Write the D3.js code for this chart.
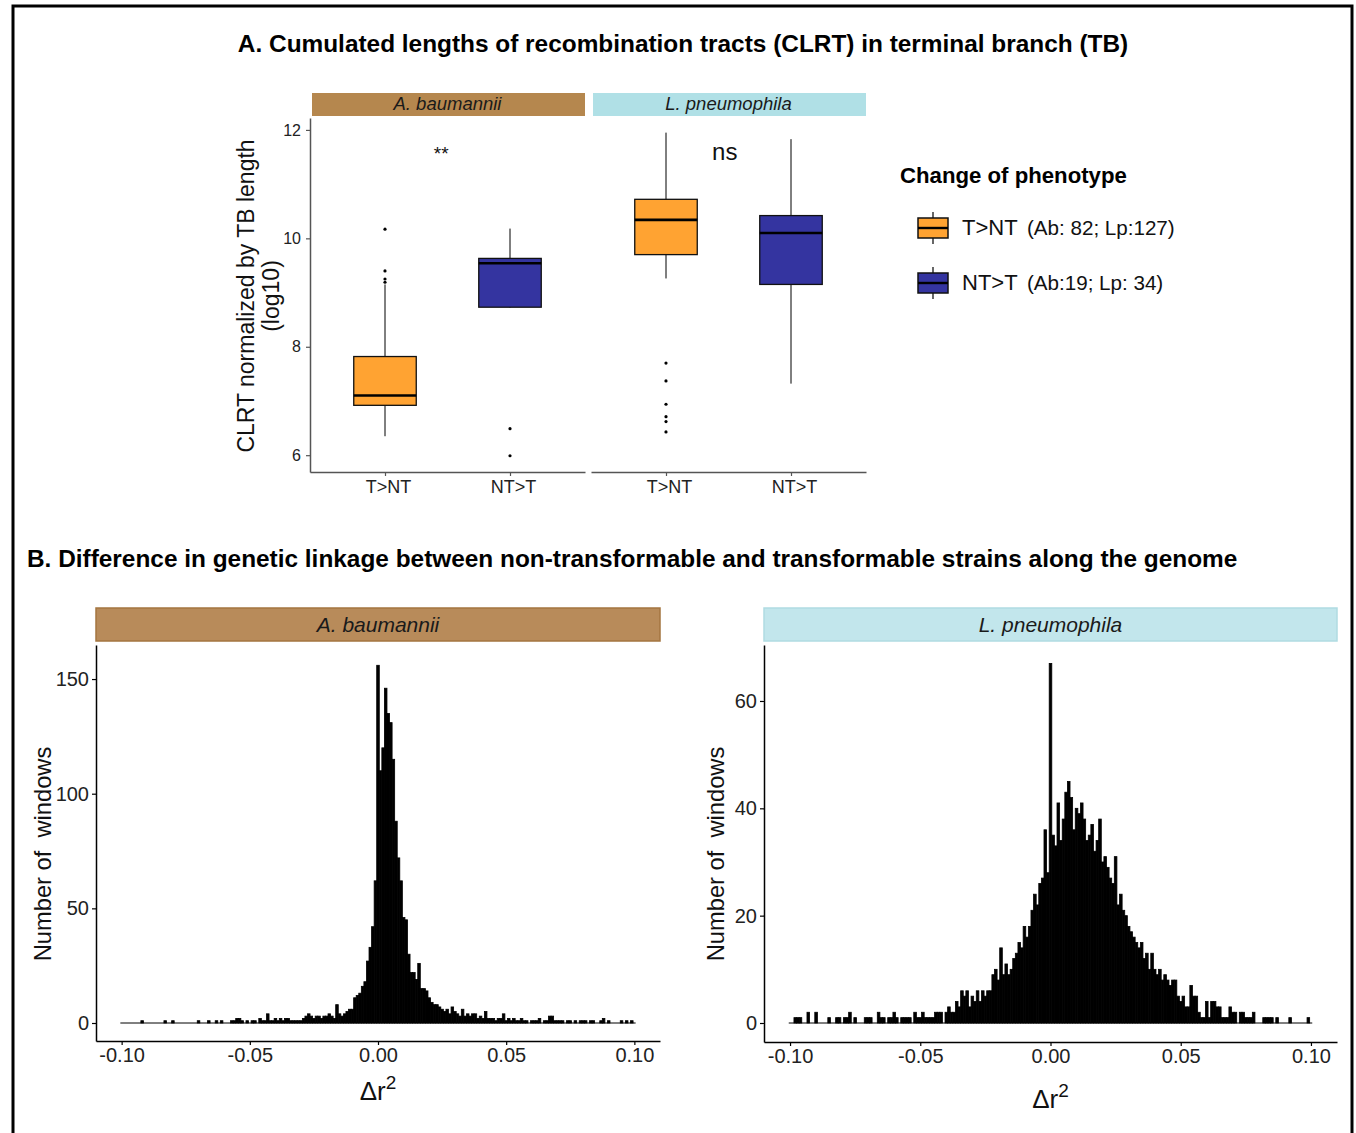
<!DOCTYPE html>
<html>
<head>
<meta charset="utf-8">
<script src="https://cdn.jsdelivr.net/npm/d3@7"></script>
<style>
  body { margin: 0; background: #fff; }
  svg { display: block; font-family: "Liberation Sans", Arial, Helvetica, sans-serif; }
</style>
</head>
<body>
<svg id="fig"></svg>
<script>
// ---- Panel A data: box stats = [lower whisker, Q1, median, Q3, upper whisker]
const species = ["A. baumannii", "L. pneumophila"];
const boxGroups = ["T>NT", "NT>T"];
const abTNT = [6.35, 6.92, 7.10, 7.82, 9.15];
const abNTT = [8.72, 8.73, 9.54, 9.63, 10.18];
const lpTNT = [9.26, 9.70, 10.34, 10.72, 11.95];
const lpNTT = [7.32, 9.15, 10.10, 10.42, 11.83];
const abTNTOut = [9.19, 9.25, 9.40, 10.17];
const abNTTOut = [5.99, 6.49];
const lpTNTOut = [6.43, 6.62, 6.71, 6.94, 7.37, 7.70];
const lpNTTOut = [];
const yTicksA = [6, 8, 10, 12];
const signifLabels = ["**", "ns"];
const legendGroups = ["T>NT", "NT>T"];
const legendCounts = ["(Ab: 82; Lp:127)", "(Ab:19; Lp: 34)"];

// ---- Panel B data: histogram counts, bins of width 0.001 centred on -0.100 ... 0.100
const binStart = -0.1;
const binWidth = 0.001;
const abCounts = [
  0,0,0,0,0,0,0,0,1,0,
  0,0,0,0,0,0,0,1,0,0,
  1,0,0,0,0,0,0,0,0,0,
  1,0,0,0,1,0,0,1,0,1,
  0,0,0,1,1,2,2,1,0,1,
  0,1,1,0,2,1,1,4,1,1,
  2,1,2,1,2,2,1,1,1,1,
  1,2,3,4,3,2,3,3,2,3,
  3,4,3,2,8,4,3,4,5,6,
  6,11,12,13,16,18,27,33,42,62,
  156,110,120,146,135,131,115,88,72,62,
  46,45,30,22,22,19,26,15,15,14,
  11,9,8,8,7,6,5,6,4,7,
  5,4,3,6,3,4,3,4,4,2,
  3,2,5,2,2,2,1,2,2,4,
  1,2,1,2,1,1,2,1,1,0,
  1,1,1,2,0,1,1,3,3,1,
  1,1,1,0,1,1,0,1,0,1,
  1,1,0,1,1,0,0,1,2,0,
  1,0,0,0,0,1,0,1,0,1,0
];
const lpCounts = [
  0,0,1,1,1,0,0,2,0,0,
  2,0,0,0,0,1,0,0,1,1,
  0,1,1,2,0,1,0,0,0,1,
  1,1,0,0,2,1,1,0,1,1,
  2,1,0,1,1,1,1,0,2,1,
  1,2,1,1,1,1,2,2,2,0,
  2,3,2,2,4,3,6,5,6,3,
  5,4,6,4,6,5,6,6,9,10,
  8,14,9,11,9,10,12,13,15,14,
  18,16,18,21,24,22,26,27,36,28,
  67,35,33,41,34,38,43,45,42,36,
  40,39,41,38,34,35,37,32,34,38,
  30,31,29,27,26,31,22,24,21,20,
  18,17,16,15,14,15,12,13,10,13,
  10,9,10,8,9,8,7,8,8,5,
  4,5,3,3,7,5,5,2,1,1,
  4,1,4,4,3,3,1,1,1,3,
  2,2,0,2,2,1,1,1,2,0,
  0,0,1,1,1,1,0,1,0,0,
  0,0,1,0,0,0,0,0,0,1,0
];
const xTicksB = [-0.1, -0.05, 0, 0.05, 0.1];
const yTicksAb = [0, 50, 100, 150];
const yTicksLp = [0, 20, 40, 60];

const width = 1356;
const height = 1133;
const orange = "#ffa332";
const blue = "#3434a0";

const svg = d3.select("#fig").attr("width", width).attr("height", height);
svg.append("rect").attr("width", width).attr("height", height).attr("fill", "#fff");

// outer frame
svg.append("rect")
  .attr("x", 13).attr("y", 6)
  .attr("width", 1339).attr("height", 1150)
  .attr("fill", "none").attr("stroke", "#000").attr("stroke-width", 3);

// ================= Panel A =================
svg.append("text")
  .attr("x", 683).attr("y", 52)
  .attr("text-anchor", "middle")
  .attr("font-weight", "bold").attr("font-size", 24.4)
  .text("A. Cumulated lengths of recombination tracts (CLRT) in terminal branch (TB)");

const panelTop = 118;
const panelBottom = 472;
const facetLeft = [310, 591];
const facetW = 275;
const stripFillA = ["#b5874e", "#b0e0e6"];

const yA = d3.scaleLinear().domain([5.69, 12.22]).range([panelBottom, panelTop]);

const facets = [
  { stats: [abTNT, abNTT], outs: [abTNTOut, abNTTOut], sig: signifLabels[0], sigX: 1.45, sigY: 11.57, sigSize: 19 },
  { stats: [lpTNT, lpNTT], outs: [lpTNTOut, lpNTTOut], sig: signifLabels[1], sigX: 1.47, sigY: 11.6, sigSize: 24 },
];

function styleAxis(g, color, textSize) {
  g.select(".domain").attr("stroke", color).attr("stroke-width", 1.5);
  g.selectAll(".tick line").attr("stroke", color).attr("stroke-width", 1.2);
  g.selectAll(".tick text").attr("fill", "#222").attr("font-size", textSize)
    .attr("font-family", "'Liberation Sans', Arial, sans-serif");
}

facets.forEach((f, i) => {
  const x0 = facetLeft[i];
  const x = d3.scaleLinear().domain([0.4, 2.6]).range([x0, x0 + facetW]);
  const g = svg.append("g");

  // strip
  g.append("rect")
    .attr("x", x0 + 2).attr("y", 93)
    .attr("width", facetW - 2).attr("height", 23)
    .attr("fill", stripFillA[i]);
  g.append("text")
    .attr("x", x0 + facetW / 2).attr("y", 110)
    .attr("text-anchor", "middle")
    .attr("font-style", "italic").attr("font-size", 18.5).attr("fill", "#1a1a1a")
    .text(species[i]);

  const bw = x(1.25) - x(0.75);
  f.stats.forEach((s, j) => {
    const cx = x(j + 1);
    const fill = j === 0 ? orange : blue;
    // whiskers
    g.append("line").attr("x1", cx).attr("x2", cx)
      .attr("y1", yA(s[4])).attr("y2", yA(s[3]))
      .attr("stroke", "#000").attr("stroke-width", 1);
    g.append("line").attr("x1", cx).attr("x2", cx)
      .attr("y1", yA(s[1])).attr("y2", yA(s[0]))
      .attr("stroke", "#000").attr("stroke-width", 1);
    // box
    g.append("rect")
      .attr("x", cx - bw / 2).attr("y", yA(s[3]))
      .attr("width", bw).attr("height", yA(s[1]) - yA(s[3]))
      .attr("fill", fill).attr("stroke", "#111").attr("stroke-width", 1.3);
    // median
    g.append("line")
      .attr("x1", cx - bw / 2).attr("x2", cx + bw / 2)
      .attr("y1", yA(s[2])).attr("y2", yA(s[2]))
      .attr("stroke", "#000").attr("stroke-width", 2.6);
    // outliers
    g.selectAll(null).data(f.outs[j]).enter().append("circle")
      .attr("cx", cx).attr("cy", (d) => yA(d)).attr("r", 1.6).attr("fill", "#000");
  });

  g.append("text")
    .attr("x", x(f.sigX)).attr("y", yA(f.sigY))
    .attr("dy", "0.35em").attr("text-anchor", "middle")
    .attr("font-size", f.sigSize).attr("fill", "#111")
    .text(f.sig);

  // bottom axis
  const xCat = d3.scalePoint().domain(boxGroups).range([x0, x0 + facetW]).padding(0.6);
  g.append("g")
    .attr("transform", `translate(0, ${panelBottom})`)
    .call(d3.axisBottom(xCat).tickSize(4).tickSizeOuter(0).tickPadding(4))
    .call((a) => styleAxis(a, "#555", 18))
    .call((a) => a.selectAll(".tick text").attr("dx", 3));

  if (i === 0) {
    g.append("g")
      .attr("transform", `translate(${x0}, 0)`)
      .call(d3.axisLeft(yA).tickValues(yTicksA).tickFormat(d3.format("d"))
        .tickSize(4).tickSizeOuter(0).tickPadding(5))
      .call((a) => styleAxis(a, "#555", 16));
  }
});

// y title of panel A
const yTitleA = svg.append("text")
  .attr("transform", "translate(254, 296) rotate(-90)")
  .attr("text-anchor", "middle").attr("font-size", 23).attr("fill", "#111");
yTitleA.append("tspan").attr("x", 0).attr("y", 0).text("CLRT normalized by TB length");
yTitleA.append("tspan").attr("x", 0).attr("y", 25).text("(log10)");

// legend
const legend = svg.append("g");
legend.append("text")
  .attr("x", 900).attr("y", 183)
  .attr("font-weight", "bold").attr("font-size", 22.2)
  .text("Change of phenotype");
legendGroups.forEach((lab, k) => {
  const cy = 228 + k * 55;
  const fill = k === 0 ? orange : blue;
  legend.append("line").attr("x1", 933).attr("x2", 933)
    .attr("y1", cy - 16).attr("y2", cy + 16)
    .attr("stroke", "#000").attr("stroke-width", 1.2);
  legend.append("rect")
    .attr("x", 918).attr("y", cy - 10).attr("width", 30).attr("height", 20)
    .attr("fill", fill).attr("stroke", "#111").attr("stroke-width", 1.5);
  legend.append("line").attr("x1", 918).attr("x2", 948)
    .attr("y1", cy).attr("y2", cy)
    .attr("stroke", "#000").attr("stroke-width", 2.4);
  const t = legend.append("text").attr("x", 962).attr("y", cy + 7).attr("fill", "#111");
  t.append("tspan").attr("font-size", 22).text(lab);
  t.append("tspan").attr("x", 1027).attr("font-size", 20.6).text(legendCounts[k]);
});

// ================= Panel B =================
svg.append("text")
  .attr("x", 27).attr("y", 567)
  .attr("font-weight", "bold").attr("font-size", 24.4)
  .text("B. Difference in genetic linkage between non-transformable and transformable strains along the genome");

function drawHist(o) {
  const x = d3.scaleLinear().domain([-0.11, 0.11]).range([o.left, o.right]);
  const y = d3.scaleLinear().domain(o.yDomain).range([o.bottom, 645]);
  const g = svg.append("g");

  g.append("rect")
    .attr("x", o.left).attr("y", 608)
    .attr("width", o.right - o.left).attr("height", 33)
    .attr("fill", o.stripFill).attr("stroke", o.stripStroke).attr("stroke-width", 1.5);
  g.append("text")
    .attr("x", (o.left + o.right) / 2).attr("y", 632)
    .attr("text-anchor", "middle")
    .attr("font-style", "italic").attr("font-size", 21).attr("fill", "#1a1a1a")
    .text(o.name);

  const bins = o.counts.map((c, k) => ({ mid: binStart + k * binWidth, n: c }));

  // zero line drawn by the empty bins' outlines
  g.append("line")
    .attr("x1", x(binStart - binWidth / 2)).attr("x2", x(-binStart + binWidth / 2))
    .attr("y1", y(0)).attr("y2", y(0))
    .attr("stroke", "#000").attr("stroke-width", 1);

  g.selectAll(".bar")
    .data(bins.filter((d) => d.n > 0))
    .enter()
    .append("rect")
    .attr("class", "bar")
    .attr("x", (d) => x(d.mid - binWidth / 2))
    .attr("y", (d) => y(d.n))
    .attr("width", (d) => x(d.mid + binWidth / 2) - x(d.mid - binWidth / 2))
    .attr("height", (d) => y(0) - y(d.n))
    .attr("fill", "#000").attr("stroke", "#000").attr("stroke-width", 0.8);

  g.append("g")
    .attr("transform", `translate(0, ${o.bottom})`)
    .call(d3.axisBottom(x).tickValues(xTicksB).tickFormat((d) => d.toFixed(2))
      .tickSize(4).tickSizeOuter(0).tickPadding(3))
    .call((a) => styleAxis(a, "#000", 20));

  g.append("g")
    .attr("transform", `translate(${o.left}, 0)`)
    .call(d3.axisLeft(y).tickValues(o.yTicks).tickSize(4).tickSizeOuter(0).tickPadding(3))
    .call((a) => styleAxis(a, "#000", 20));

  const xt = g.append("text")
    .attr("x", x(0)).attr("y", o.xTitleY)
    .attr("text-anchor", "middle").attr("font-size", 26).attr("fill", "#111");
  xt.append("tspan").text("Δr");
  xt.append("tspan").attr("dy", -11).attr("font-size", 19).text("2");

  g.append("text")
    .attr("transform", `translate(${o.yTitleX}, 854) rotate(-90)`)
    .attr("text-anchor", "middle").attr("font-size", 23.7).attr("fill", "#111")
    .attr("xml:space", "preserve")
    .text("Number of  windows");
}

drawHist({
  name: species[0], counts: abCounts, left: 96, right: 660, bottom: 1041,
  yDomain: [-7.85, 164.85], yTicks: yTicksAb,
  stripFill: "#b88b5a", stripStroke: "#a47540",
  xTitleY: 1100, yTitleX: 51,
});
drawHist({
  name: species[1], counts: lpCounts, left: 764, right: 1337, bottom: 1042,
  yDomain: [-3.54, 70.43], yTicks: yTicksLp,
  stripFill: "#c2e6ec", stripStroke: "#b0dbe2",
  xTitleY: 1108, yTitleX: 724,
});
</script>
</body>
</html>
